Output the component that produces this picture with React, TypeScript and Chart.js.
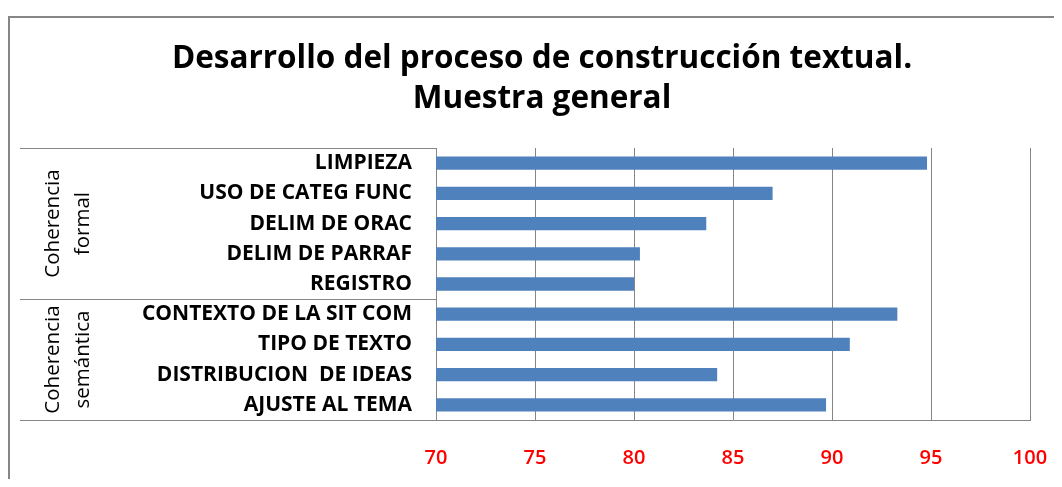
import React, { useEffect, useRef } from "react";
import { Chart, registerables } from "chart.js";

Chart.register(...registerables);

const titleLines = ["Desarrollo del proceso de construcción textual.", "Muestra general"];
const categories = [
  "LIMPIEZA",
  "USO DE CATEG FUNC",
  "DELIM DE ORAC",
  "DELIM DE PARRAF",
  "REGISTRO",
  "CONTEXTO DE LA SIT COM",
  "TIPO DE TEXTO",
  "DISTRIBUCION  DE IDEAS",
  "AJUSTE AL TEMA",
];
const values = [94.8, 87.0, 83.65, 80.3, 80.0, 93.3, 90.9, 84.2, 89.7];
const groupNames = [["Coherencia", "formal"], ["Coherencia", "semántica"]];
const groupSizes = [5, 4];
const xMin = 70;
const xMax = 100;
const xStep = 5;

const FONT = "'Open Sans', sans-serif";
const LINE = "#868686";

const framePlugin = {
  id: "framePlugin",
  afterDraw(chart: any) {
    const ctx = chart.ctx;
    const area = chart.chartArea;
    const yScale = chart.scales.y;
    ctx.save();
    // outer frame (left & top)
    ctx.strokeStyle = LINE;
    ctx.lineWidth = 2;
    ctx.beginPath();
    ctx.moveTo(1, chart.height);
    ctx.lineTo(1, 9);
    ctx.lineTo(chart.width, 9);
    ctx.stroke();

    // title
    ctx.fillStyle = "#000";
    ctx.font = `bold 31.5px ${FONT}`;
    ctx.textAlign = "center";
    ctx.textBaseline = "middle";
    titleLines.forEach((t, i) => ctx.fillText(t, 534, 51 + i * 40));

    // label box lines
    ctx.lineWidth = 1;
    const leftX = 12;
    const hline = (y: number, x2: number) => {
      ctx.beginPath();
      ctx.moveTo(leftX, Math.round(y) + 0.5);
      ctx.lineTo(x2, Math.round(y) + 0.5);
      ctx.stroke();
    };
    hline(area.top, area.left);
    hline(area.bottom, area.left);

    let start = 0;
    const half = (yScale.getPixelForValue(1) - yScale.getPixelForValue(0)) / 2;
    groupSizes.forEach((size, gi) => {
      const yTop = yScale.getPixelForValue(start) - half;
      const yBot = yScale.getPixelForValue(start + size - 1) + half;
      if (gi > 0) hline(yTop, area.left);
      const cy = (yTop + yBot) / 2;
      ctx.save();
      ctx.translate(60, cy);
      ctx.rotate(-Math.PI / 2);
      ctx.fillStyle = "#000";
      ctx.font = `20.5px ${FONT}`;
      ctx.textAlign = "center";
      ctx.textBaseline = "middle";
      const names = groupNames[gi];
      const lh = 30;
      names.forEach((n, i) => {
        ctx.fillText(n, 0, (i - (names.length - 1) / 2) * lh);
      });
      ctx.restore();
      start += size;
    });
    ctx.restore();
  },
};

export default function App() {
  const ref = useRef<HTMLCanvasElement>(null);
  useEffect(() => {
    const chart = new Chart(ref.current!, {
      type: "bar",
      data: {
        labels: categories,
        datasets: [
          {
            data: values,
            backgroundColor: "#4F81BD",
            borderWidth: 0,
            barPercentage: 0.44,
            categoryPercentage: 1,
          },
        ],
      },
      options: {
        indexAxis: "y",
        animation: false,
        responsive: false,
        layout: { padding: { left: 0, right: 32, top: 140, bottom: 0 } },
        plugins: {
          legend: { display: false },
          tooltip: { enabled: false },
          title: { display: false },
        },
        scales: {
          x: {
            min: xMin,
            max: xMax,
            afterFit: (s: any) => {
              s.height = 59;
            },
            ticks: {
              stepSize: xStep,
              color: "#FF0000",
              font: { family: FONT, size: 20, weight: "600" },
              padding: 4,
            },
            grid: {
              color: LINE,
              lineWidth: 1,
              drawTicks: true,
              tickLength: 22,
              tickColor: "rgba(0,0,0,0)",
            },
            border: { display: true, color: LINE, width: 1 },
          },
          y: {
            afterFit: (s: any) => {
              s.width = 428;
            },
            ticks: {
              color: "#000",
              font: { family: FONT, size: 21, weight: "bold" },
              padding: 24,
            },
            grid: { display: false, drawTicks: false },
            border: { display: true, color: LINE, width: 1 },
          },
        },
      },
      plugins: [framePlugin],
    });
    return () => chart.destroy();
  }, []);
  return <canvas ref={ref} width={1054} height={471} style={{ display: "block" }} />;
}
